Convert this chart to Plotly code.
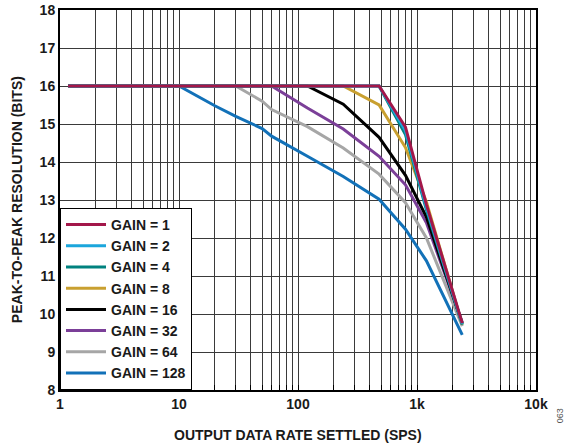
import plotly.graph_objects as go

rates = [1.17, 10, 20, 30, 50, 60, 120, 240, 480, 800, 1200, 2400]

gain_labels = ["GAIN = 1", "GAIN = 2", "GAIN = 4", "GAIN = 8",
               "GAIN = 16", "GAIN = 32", "GAIN = 64", "GAIN = 128"]

res_g1 = [16, 16, 16, 16, 16, 16, 16, 16, 16, 14.92, 12.88, 9.76]
res_g2 = [16, 16, 16, 16, 16, 16, 16, 16, 16, 14.82, 12.80, 9.74]
res_g4 = [16, 16, 16, 16, 16, 16, 16, 16, 16, 14.72, 12.74, 9.72]
res_g8 = [16, 16, 16, 16, 16, 16, 16, 16, 15.5, 14.38, 12.95, 9.72]
res_g16 = [16, 16, 16, 16, 16, 16, 16, 15.52, 14.65, 13.65, 12.55, 9.75]
res_g32 = [16, 16, 16, 16, 16, 16, 15.42, 14.87, 14.15, 13.40, 12.40, 9.78]
res_g64 = [16, 16, 16, 16, 15.6, 15.38, 14.93, 14.37, 13.68, 12.93, 12.0, 9.68]
res_g128 = [16, 16, 15.48, 15.2, 14.88, 14.68, 14.15, 13.62, 13.02, 12.23, 11.4, 9.45]

series = [res_g1, res_g2, res_g4, res_g8, res_g16, res_g32, res_g64, res_g128]
colors = ["#A3174A", "#1BA6DC", "#00827F", "#C9A030",
          "#000000", "#7B3F98", "#A6A6A6", "#1271B8"]

x_tickvals = [1, 10, 100, 1000, 10000]
x_ticktext = ["1", "10", "100", "1k", "10k"]

fig = go.Figure()
# draw highest gain first so GAIN = 1 sits on top
for name, ys, col in reversed(list(zip(gain_labels, series, colors))):
    fig.add_trace(go.Scatter(x=rates, y=ys, mode="lines", name=name,
                             line=dict(color=col, width=3)))

font_family = "Arial, Liberation Sans, sans-serif"
grid_col = "#3a3a3a"

fig.update_layout(
    width=576, height=447,
    margin=dict(l=60, r=40, t=10, b=57),
    paper_bgcolor="white", plot_bgcolor="white",
    font=dict(family=font_family, size=14, color="#1a1a1a"),
    showlegend=True,
    legend=dict(
        x=0.0, y=0.0, xanchor="left", yanchor="bottom",
        traceorder="reversed",
        bgcolor="white", bordercolor="black", borderwidth=1,
        font=dict(family=font_family, size=14, color="#1a1a1a", weight="bold"),
        itemwidth=40,
        tracegroupgap=0,
    ),
    xaxis=dict(
        type="log", range=[0, 4], automargin=False,
        tickvals=x_tickvals, ticktext=x_ticktext,
        tickfont=dict(family=font_family, size=14, weight="bold"),
        showgrid=True, gridcolor=grid_col, gridwidth=1,
        minor=dict(dtick="D1", showgrid=True, gridcolor=grid_col, gridwidth=1,
                   ticks="inside", ticklen=5, tickcolor="black"),
        ticks="", showline=True, linecolor="black", linewidth=2, mirror=True,
        zeroline=False,
    ),
    yaxis=dict(
        range=[8, 18], dtick=1, automargin=False,
        tickfont=dict(family=font_family, size=14, weight="bold"),
        showgrid=True, gridcolor=grid_col, gridwidth=1,
        ticks="", showline=True, linecolor="black", linewidth=2, mirror=True,
        zeroline=False,
    ),
)

fig.add_annotation(text="<b>OUTPUT DATA RATE SETTLED (SPS)</b>",
                   xref="paper", yref="paper", x=0.5, y=-0.118,
                   xanchor="center", yanchor="middle", showarrow=False,
                   font=dict(family=font_family, size=14, color="#1a1a1a"))
fig.add_annotation(text="<b>PEAK-TO-PEAK RESOLUTION (BITS)</b>",
                   xref="paper", yref="paper", x=-0.09, y=0.5,
                   xanchor="center", yanchor="middle", showarrow=False,
                   textangle=-90,
                   font=dict(family=font_family, size=14, color="#1a1a1a"))
fig.add_annotation(text="063", xref="paper", yref="paper",
                   x=1.067, y=-0.092, showarrow=False, textangle=-90,
                   font=dict(family=font_family, size=9, color="#555555"))

fig.write_html("out.html", config={"displayModeBar": False},
               post_script="document.body.style.margin='0';")
